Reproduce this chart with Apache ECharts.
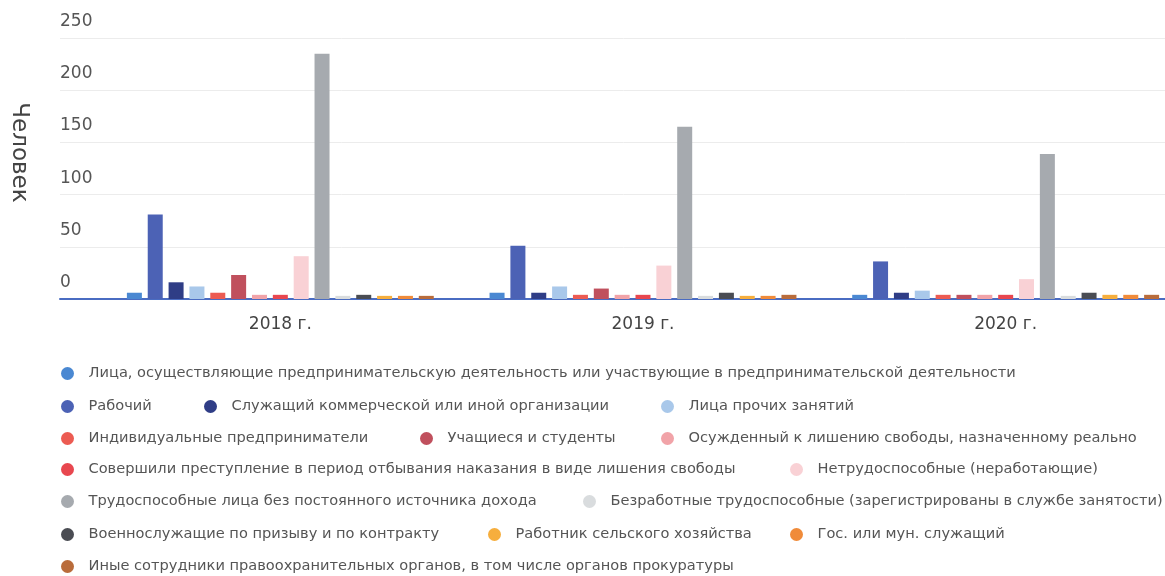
<!DOCTYPE html>
<html>
<head>
<meta charset="utf-8">
<script src="https://cdn.jsdelivr.net/npm/echarts@6/dist/echarts.min.js"></script>
<style>html,body{margin:0;padding:0;background:#fff;overflow:hidden;width:1165px;height:576px;}#c{width:1187px;height:576px;}</style>
</head>
<body>
<div id="c"></div>
<script>
var years = ['2018 г.', '2019 г.', '2020 г.'];
var seriesNames = [
  'Лица, осуществляющие предпринимательскую деятельность или участвующие в предпринимательской деятельности',
  'Рабочий',
  'Служащий коммерческой или иной организации',
  'Лица прочих занятий',
  'Индивидуальные предприниматели',
  'Учащиеся и студенты',
  'Осужденный к лишению свободы, назначенному реально',
  'Совершили преступление в период отбывания наказания в виде лишения свободы',
  'Нетрудоспособные (неработающие)',
  'Трудоспособные лица без постоянного источника дохода',
  'Безработные трудоспособные (зарегистрированы в службе занятости)',
  'Военнослужащие по призыву и по контракту',
  'Работник сельского хозяйства',
  'Гос. или мун. служащий',
  'Иные сотрудники правоохранительных органов, в том числе органов прокуратуры'
];
var values2018 = [6, 81, 16, 12, 6, 23, 4, 4, 41, 235, 3, 4, 3, 3, 3];
var values2019 = [6, 51, 6, 12, 4, 10, 4, 4, 32, 165, 3, 6, 3, 3, 4];
var values2020 = [4, 36, 6, 8, 4, 4, 4, 4, 19, 139, 3, 6, 4, 4, 4];
var yTicks = [0, 50, 100, 150, 200, 250];

var colors = ['#4a88d2', '#4c62b5', '#2f3d86', '#a9c8ea', '#ec5b52', '#c0505d', '#f1a3a8', '#e8474f',
  '#f9d1d5', '#a6aaaf', '#d9dcde', '#4a4c53', '#f6ae3d', '#f08b3a', '#b96c3b'];
// legend item layout (circle centre x, y)
var legendPos = [[68,373],[68,406],[211,406],[668,406],[68,438],[427,438],[668,438],[68,469],[797,469],
  [68,501],[590,501],[68,534],[495,534],[797,534],[68,566]];

var FONT = 'DejaVu Sans';
var chart = echarts.init(document.getElementById('c'), null, {renderer: 'canvas'});

var series = seriesNames.map(function (name, i) {
  return {
    name: name,
    type: 'bar',
    xAxisIndex: 1,
    yAxisIndex: 1,
    barWidth: 15,
    barGap: '39%',
    itemStyle: {color: colors[i]},
    data: [values2018[i], values2019[i], values2020[i]]
  };
});

var legends = seriesNames.map(function (name, i) {
  return {
    data: [name],
    left: legendPos[i][0] - 7,
    top: legendPos[i][1] - 7,
    padding: 0,
    icon: 'circle',
    itemWidth: 32,
    itemHeight: 13,
    selectedMode: false,
    textStyle: {fontFamily: FONT, fontSize: 14.6, color: '#555'}
  };
});

var option = {
  backgroundColor: '#fff',
  animation: false,
  color: colors,
  legend: legends,
  grid: [
    {left: 60, right: 0, top: 38, height: 261, outerBoundsMode: 'none', containLabel: false},
    {left: 99, right: 0, top: 38, height: 261, outerBoundsMode: 'none', containLabel: false}
  ],
  xAxis: [
    {gridIndex: 0, type: 'value', min: 0, max: 1, axisLine: {show: true, lineStyle: {color: '#4a6cc2', width: 2}},
      axisTick: {show: false}, axisLabel: {show: false}, splitLine: {show: false}},
    {gridIndex: 1, type: 'category', data: years, axisLine: {show: false}, axisTick: {show: false},
      axisLabel: {margin: 17, fontFamily: FONT, fontSize: 17, color: '#444'}}
  ],
  yAxis: [
    {gridIndex: 0, type: 'value', min: 0, max: 250, interval: 50,
      name: 'Человек', nameLocation: 'middle', nameRotate: -90, nameGap: 30,
      nameTextStyle: {fontFamily: FONT, fontSize: 23, color: '#444', padding: [0, 32, 0, 0]},
      axisLine: {show: false}, axisTick: {show: false},
      axisLabel: {inside: true, margin: 0, verticalAlign: 'bottom', padding: [0, 0, 8, 0],
        fontFamily: FONT, fontSize: 17, color: '#555',
        formatter: function (v) { return yTicks.indexOf(v) >= 0 ? String(v) : ''; }},
      splitLine: {show: true, lineStyle: {color: '#ececec', width: 1}}},
    {gridIndex: 1, type: 'value', min: 0, max: 250, interval: 50, show: false, splitLine: {show: false}}
  ],
  series: series
};
chart.setOption(option);
</script>
</body>
</html>
